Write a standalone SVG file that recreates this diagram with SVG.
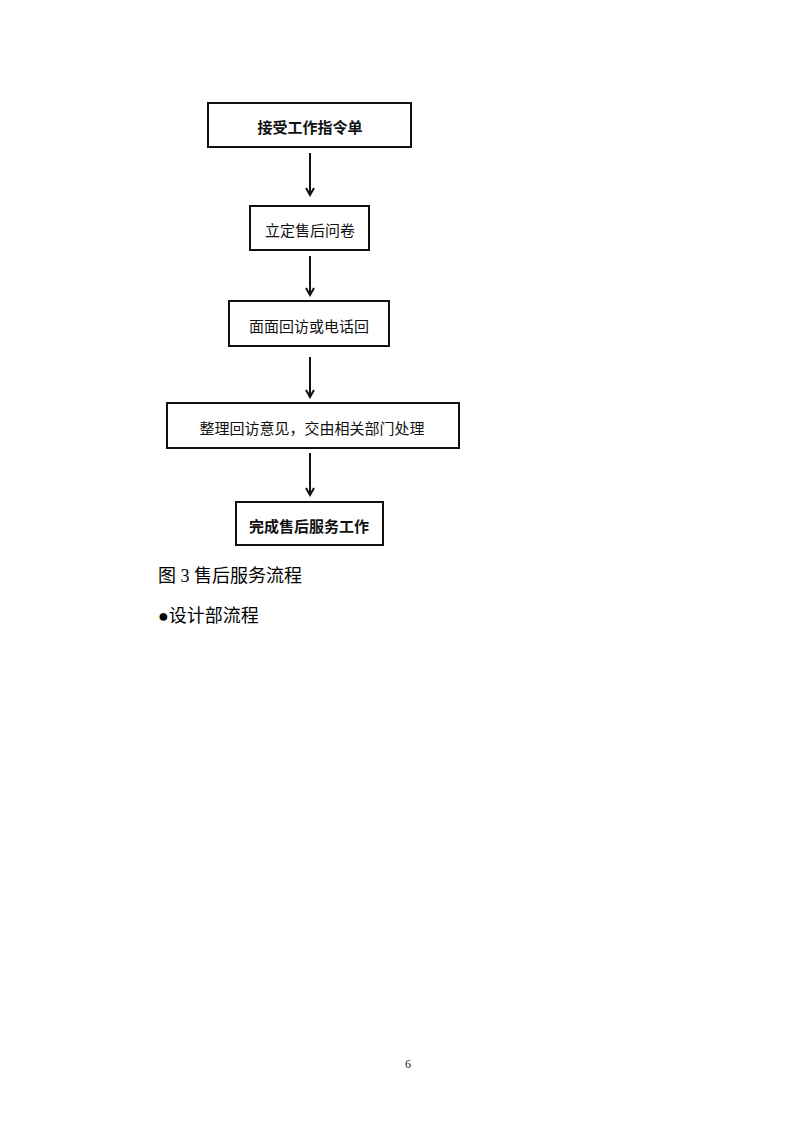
<svg xmlns="http://www.w3.org/2000/svg" width="793" height="1122" viewBox="0 0 793 1122">
<style>
.box{fill:#fff;stroke:#111;stroke-width:2}
.t{font-family:"Noto Sans CJK SC","Liberation Sans",sans-serif;font-size:15px;fill:#111;text-anchor:middle;dominant-baseline:central}
.b{font-weight:bold}
.cap{font-family:"Liberation Serif","Noto Sans CJK SC",serif;font-size:18px;fill:#000}
.conn{stroke:#111;stroke-width:2;fill:none;marker-end:url(#ah)}
</style>
<defs>
<marker id="ah" markerWidth="10" markerHeight="10" refX="8" refY="5" orient="auto" markerUnits="userSpaceOnUse">
<path d="M1,1 L8,5 L1,9" fill="none" stroke="#111" stroke-width="2"/>
</marker>
</defs>
<rect width="793" height="1122" fill="#fff"/>
<g id="n1"><rect class="box" x="208" y="103" width="203" height="44"/><text class="t b" x="310" y="126">接受工作指令单</text></g>
<g id="n2"><rect class="box" x="250" y="206" width="119" height="44"/><text class="t" x="310" y="229">立定售后问卷</text></g>
<g id="n3"><rect class="box" x="229" y="301" width="160" height="45"/><text class="t" x="309" y="325">面面回访或电话回</text></g>
<g id="n4"><rect class="box" x="167" y="403" width="292" height="45"/><text class="t" x="312" y="427">整理回访意见，交由相关部门处理</text></g>
<g id="n5"><rect class="box" x="236" y="502" width="147" height="43"/><text class="t b" x="309" y="525">完成售后服务工作</text></g>
<g id="connectors">
<line class="conn" x1="310" y1="153" x2="310" y2="195"/>
<line class="conn" x1="310" y1="256" x2="310" y2="295"/>
<line class="conn" x1="310" y1="357" x2="310" y2="397"/>
<line class="conn" x1="310" y1="453" x2="310" y2="495"/>
</g>
<text class="cap" x="158" y="582">图 3 售后服务流程</text>
<text class="cap" x="158" y="622">●设计部流程</text>
<text x="408" y="1068" font-family="Liberation Serif,serif" font-size="12" text-anchor="middle" fill="#222">6</text>
</svg>
